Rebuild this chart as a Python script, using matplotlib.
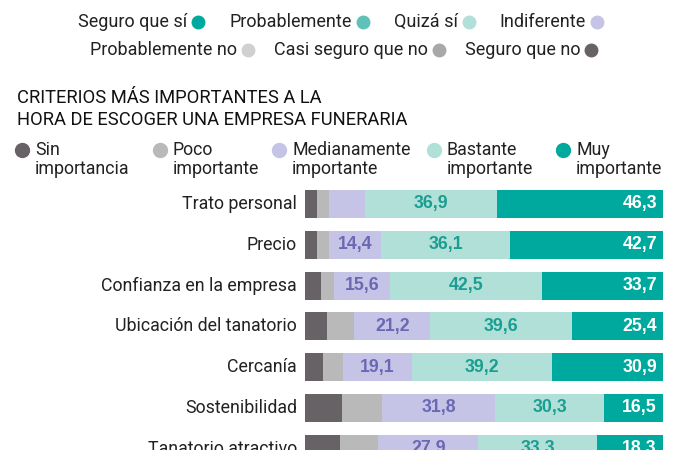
import matplotlib
matplotlib.use("Agg")
import matplotlib.pyplot as plt
import numpy as np

plt.rcParams['font.family'] = ['Roboto', 'DejaVu Sans']

categories = ["Trato personal", "Precio", "Confianza en la empresa",
              "Ubicación del tanatorio", "Cercanía", "Sostenibilidad",
              "Tanatorio atractivo"]
sin_imp = [3.3, 3.4, 4.5, 6.1, 4.9, 10.4, 9.8]
poco_imp = [3.4, 3.4, 3.7, 7.7, 5.8, 11.0, 10.7]
medianamente = [10.1, 14.4, 15.6, 21.2, 19.1, 31.8, 27.9]
bastante = [36.9, 36.1, 42.5, 39.6, 39.2, 30.3, 33.3]
muy = [46.3, 42.7, 33.7, 25.4, 30.9, 16.5, 18.3]

series_names = ["Sin\nimportancia", "Poco\nimportante", "Medianamente\nimportante",
                "Bastante\nimportante", "Muy\nimportante"]
series_colors = ["#676265", "#b9b9b9", "#c5c3e6", "#b1e0d9", "#00a99d"]

top_legend_row1 = ["Seguro que sí", "Probablemente", "Quizá sí", "Indiferente"]
top_colors_row1 = ["#00a99d", "#5fc1b7", "#b1e0d9", "#c5c3e6"]
top_legend_row2 = ["Probablemente no", "Casi seguro que no", "Seguro que no"]
top_colors_row2 = ["#d0d0d0", "#a8a8a8", "#676265"]

W, H = 680, 450
fig = plt.figure(figsize=(6.8, 4.5), dpi=100)

def fx(px):
    return px / W

def fy(py):
    return 1 - py / H

fig.canvas.draw()
renderer = fig.canvas.get_renderer()

def draw_row(names, colors, y, x_start, gap=29, fs=13.0):
    x = x_start
    for name, col in zip(names, colors):
        t = fig.text(fx(x), fy(y), name, fontsize=fs, color="#222222", ha="left", va="center")
        w = t.get_window_extent(renderer=renderer).width
        fig.add_artist(plt.Line2D([fx(x + w + 11)], [fy(y)], marker='o', markersize=9,
                                  color=col, transform=fig.transFigure, linestyle='none'))
        x += w + 11 + gap

draw_row(top_legend_row1, top_colors_row1, 22, 78, gap=31)
draw_row(top_legend_row2, top_colors_row2, 50, 90, gap=26)

# Title
fig.text(fx(17), fy(98), "CRITERIOS MÁS IMPORTANTES A LA", fontsize=13.2, color="#111111",
         ha="left", va="center")
fig.text(fx(17), fy(120), "HORA DE ESCOGER UNA EMPRESA FUNERARIA", fontsize=13.2, color="#111111",
         ha="left", va="center")

# Series legend
leg_x = [22, 160, 279, 434, 563]
for name, col, x in zip(series_names, series_colors, leg_x):
    fig.add_artist(plt.Line2D([fx(x)], [fy(150)], marker='o', markersize=10,
                              color=col, transform=fig.transFigure, linestyle='none'))
    l1, l2 = name.split("\n")
    fig.text(fx(x + 13), fy(150), l1, fontsize=12.8, color="#222222", ha="left", va="center")
    fig.text(fx(x + 13), fy(169), l2, fontsize=12.8, color="#222222", ha="left", va="center")

# Bars
ax_left, ax_right = 305, 663
ax_top, ax_bottom = 184, 450
ax = fig.add_axes([fx(ax_left), 0, (ax_right - ax_left) / W, (ax_bottom - ax_top) / H])
y = np.arange(len(categories))
data = [sin_imp, poco_imp, medianamente, bastante, muy]
left = np.zeros(len(categories))
for vals, col in zip(data, series_colors):
    ax.barh(y, vals, left=left, height=0.69, color=col, edgecolor='none')
    left += np.array(vals)

ax.set_xlim(0, 100)
ax.set_ylim(6.03, -0.49)
ax.axis('off')

lab_font = ['Liberation Sans', 'DejaVu Sans']
for i, cat in enumerate(categories):
    ax.text(-2.2, i, cat, ha='right', va='center', fontsize=12.8, color="#222222")
    l_med = sin_imp[i] + poco_imp[i]
    if medianamente[i] >= 12:
        ax.text(l_med + medianamente[i] / 2, i, f"{medianamente[i]:.1f}".replace('.', ','),
                ha='center', va='center', fontsize=12.8, fontweight='bold', color="#6b68b3",
                family=lab_font)
    l_bas = l_med + medianamente[i]
    ax.text(l_bas + bastante[i] / 2, i, f"{bastante[i]:.1f}".replace('.', ','),
            ha='center', va='center', fontsize=12.8, fontweight='bold', color="#1a9e91",
            family=lab_font)
    ax.text(98.3, i, f"{muy[i]:.1f}".replace('.', ','),
            ha='right', va='center', fontsize=12.8, fontweight='bold', color="white",
            family=lab_font)

fig.savefig("out.png", dpi=100)
